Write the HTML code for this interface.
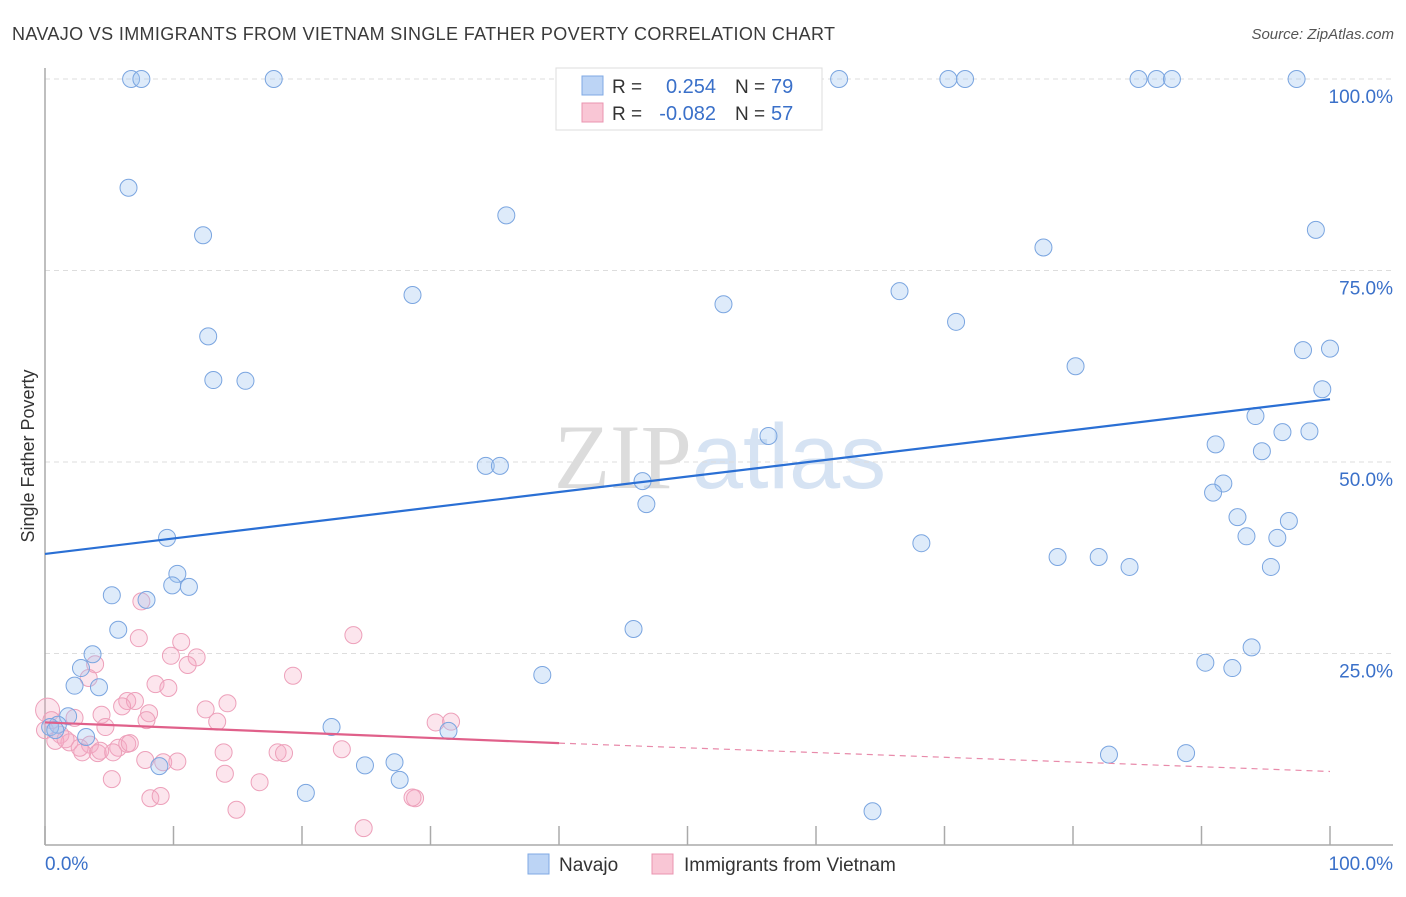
<!DOCTYPE html>
<html><head><meta charset="utf-8"><style>
body{margin:0;background:#fff;font-family:"Liberation Sans",sans-serif;}
svg text{font-family:"Liberation Sans",sans-serif;}
</style></head><body>
<svg id="chart" width="1406" height="892" viewBox="0 0 1406 892" xmlns="http://www.w3.org/2000/svg">
<text x="12" y="40" font-size="18" fill="#3a3a3a" textLength="823" lengthAdjust="spacing">NAVAJO VS IMMIGRANTS FROM VIETNAM SINGLE FATHER POVERTY CORRELATION CHART</text>
<text x="1394" y="39" font-size="15" fill="#555" font-style="italic" text-anchor="end">Source: ZipAtlas.com</text>
<text x="720" y="488" font-size="92" text-anchor="middle" fill="#e4e4e4"><tspan font-family="Liberation Serif" fill="#dcdcdc">ZIP</tspan><tspan fill="#d6e3f3">atlas</tspan></text>
<g id="grid"></g>
<g id="axes"></g>
<g id="pts"></g>
<g id="trends"></g>
<text transform="translate(34,456) rotate(-90)" font-size="18" fill="#333" text-anchor="middle">Single Father Poverty</text>
<g>
<rect x="556" y="68" width="266" height="62" fill="#fff" stroke="#ddd"/>
<rect x="582" y="76" width="21" height="19" fill="#bcd4f5" stroke="#7fa9e4"/>
<text x="612" y="93" font-size="19" fill="#333">R =</text>
<text x="716" y="93" font-size="20" fill="#3a70c9" text-anchor="end">0.254</text>
<text x="735" y="93" font-size="19" fill="#333">N =</text>
<text x="771" y="93" font-size="20" fill="#3a70c9">79</text>
<rect x="582" y="103" width="21" height="19" fill="#f9c6d5" stroke="#ea94b0"/>
<text x="612" y="120" font-size="19" fill="#333">R =</text>
<text x="716" y="120" font-size="20" fill="#3a70c9" text-anchor="end">-0.082</text>
<text x="735" y="120" font-size="19" fill="#333">N =</text>
<text x="771" y="120" font-size="20" fill="#3a70c9">57</text>
</g>
<g>
<rect x="528" y="854" width="21" height="20" fill="#bcd4f5" stroke="#7fa9e4"/>
<text x="559" y="871" font-size="19" fill="#333">Navajo</text>
<rect x="652" y="854" width="21" height="20" fill="#f9c6d5" stroke="#ea94b0"/>
<text x="684" y="871" font-size="19" fill="#333">Immigrants from Vietnam</text>
</g>
</svg>
<script>
const yTicks=[25,50,75,100];
const yTickLabels=["25.0%","50.0%","75.0%","100.0%"];
const xTicks=[0,10,20,30,40,50,60,70,80,90,100];
const xEndLabels=["0.0%","100.0%"];
const navajoX=[6.7,7.5,17.8,40.5,61.8,70.3,71.6,85.1,86.5,87.7,97.4,6.5,12.3,35.9,98.9,77.7,28.6,52.8,66.5,70.9,12.7,97.9,100,13.1,15.6,80.2,99.4,56.3,94.2,96.3,98.4,91.1,94.7,34.3,35.4,46.5,91.7,90.9,46.8,92.8,96.8,9.5,93.5,95.9,68.2,78.8,82.0,84.4,95.4,10.3,9.9,11.2,5.2,7.9,5.7,45.8,3.7,2.8,2.3,4.2,93.9,90.3,92.4,38.7,1.8,1.0,0.4,0.8,3.2,22.3,31.4,82.8,88.8,27.2,24.9,8.9,27.6,20.3,64.4];
const navajoY=[100,100,100,100,100,100,100,100,100,100,100,85.8,79.6,82.2,80.3,78.0,71.8,70.6,72.3,68.3,66.4,64.6,64.8,60.7,60.6,62.5,59.5,53.4,56.0,53.9,54.0,52.3,51.4,49.5,49.5,47.5,47.2,46.0,44.5,42.8,42.3,40.1,40.3,40.1,39.4,37.6,37.6,36.3,36.3,35.4,33.9,33.7,32.6,32.0,28.1,28.2,24.9,23.1,20.8,20.6,25.8,23.8,23.1,22.2,16.8,15.7,15.4,15.0,14.1,15.4,14.9,11.8,12.0,10.8,10.4,10.3,8.5,6.8,4.4];
const vietnamX=[7.5,7.3,10.6,9.8,11.8,11.1,3.9,3.4,8.6,9.6,19.3,24.0,6.4,7.0,14.2,6.0,8.1,12.5,4.4,7.9,13.4,2.3,4.7,0.2,0.5,1.2,1.9,3.5,5.7,6.4,6.6,4.1,2.9,5.3,7.8,13.9,18.1,18.6,23.1,9.2,10.3,14.0,5.2,16.7,14.9,8.2,9.0,28.8,24.8,30.4,31.6,28.6,0,0.8,1.6,4.3,2.7];
const vietnamY=[31.8,27.0,26.5,24.7,24.5,23.5,23.6,21.8,21.0,20.5,22.1,27.4,18.8,18.8,18.5,18.1,17.2,17.7,17.0,16.3,16.1,16.6,15.4,17.6,16.3,14.4,13.4,13.1,12.7,13.2,13.3,12.0,12.1,12.1,11.1,12.1,12.1,12.0,12.5,10.8,10.9,9.3,8.6,8.2,4.6,6.1,6.4,6.1,2.2,16.0,16.1,6.2,15.0,13.6,13.8,12.3,12.7];
const navajoTrend=[38.0,58.2];
const vietnamTrend=[16.0,13.3,9.6];
const X0=45,X1=1330,Y0=845,Y100=79;
const xs=v=>X0+(X1-X0)*v/100;
const ys=v=>Y0-(Y0-Y100)*v/100;
const NS="http://www.w3.org/2000/svg";
function mk(tag,attrs,parent){const e=document.createElementNS(NS,tag);for(const k in attrs)e.setAttribute(k,attrs[k]);document.getElementById(parent).appendChild(e);return e;}
yTicks.forEach((t,i)=>{
  const g=mk('line',{x1:X0,x2:1393,y1:ys(t),y2:ys(t),stroke:'#ddd','stroke-dasharray':'5,4'},'grid');
  
  
  const l=mk('text',{x:1393,y:ys(t)+24,'font-size':19,fill:'#3a70c9','text-anchor':'end'},'grid');
  l.textContent=yTickLabels[i];
  
  
});
const ax=mk('line',{x1:X0,x2:X0,y1:68,y2:Y0,stroke:'#aaa','stroke-width':1.5},'axes');


const bx=mk('line',{x1:X0,x2:1393,y1:Y0,y2:Y0,stroke:'#aaa','stroke-width':1.5},'axes');


xTicks.forEach(t=>{
  const tk=mk('line',{x1:xs(t),x2:xs(t),y1:826,y2:Y0,stroke:'#aaa','stroke-width':1.5},'axes');
  
  
});
const xl0=mk('text',{x:45,y:870,'font-size':19,fill:'#3a70c9'},'axes');
xl0.textContent=xEndLabels[0];


const xl1=mk('text',{x:1393,y:870,'font-size':19,fill:'#3a70c9','text-anchor':'end'},'axes');
xl1.textContent=xEndLabels[1];


vietnamX.forEach((v,i)=>{
  const c=mk('circle',{cx:xs(v),cy:ys(vietnamY[i]),r:i==23?12:8.5,fill:'rgba(245,170,195,0.3)',stroke:'#eda0ba','stroke-width':1},'pts');
  
  
});
navajoX.forEach((v,i)=>{
  const c=mk('circle',{cx:xs(v),cy:ys(navajoY[i]),r:8.5,fill:'rgba(160,198,242,0.35)',stroke:'#7aa5e0','stroke-width':1},'pts');
  
  
});
const nt=mk('line',{x1:xs(0),y1:ys(navajoTrend[0]),x2:xs(100),y2:ys(navajoTrend[1]),stroke:'#2a6fd4','stroke-width':2.2},'trends');


const vt=mk('line',{x1:xs(0),y1:ys(vietnamTrend[0]),x2:xs(40),y2:ys(vietnamTrend[1]),stroke:'#e0608a','stroke-width':2.2},'trends');


const vd=mk('line',{x1:xs(40),y1:ys(vietnamTrend[1]),x2:xs(100),y2:ys(vietnamTrend[2]),stroke:'#e88aaa','stroke-width':1.2,'stroke-dasharray':'6,5'},'trends');


</script>
</body></html>
